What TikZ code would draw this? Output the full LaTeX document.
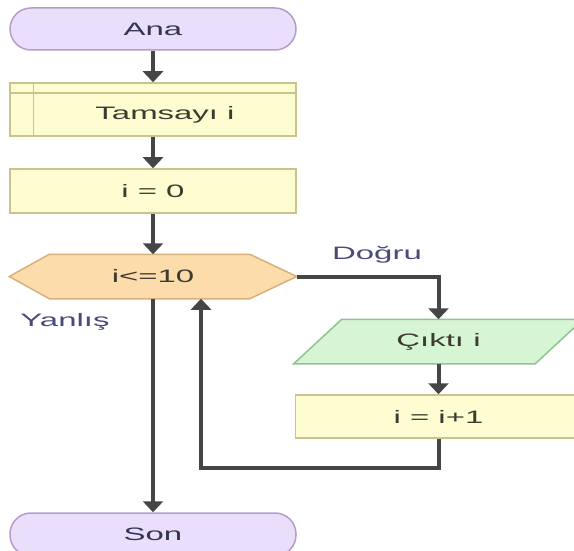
\documentclass[tikz,border=0pt]{standalone}
\usepackage{fontspec}
\setmainfont{Liberation Sans}[FakeStretch=1.83]
\usetikzlibrary{arrows.meta}
\definecolor{termfill}{HTML}{EADFFB}
\definecolor{termdraw}{HTML}{B79CCB}
\definecolor{boxfill}{HTML}{FEFDD2}
\definecolor{boxdraw}{HTML}{C9C48E}
\definecolor{hexfill}{HTML}{FCDCAA}
\definecolor{hexdraw}{HTML}{D9B07C}
\definecolor{iofill}{HTML}{D5F5D5}
\definecolor{iodraw}{HTML}{92C292}
\definecolor{linec}{HTML}{454545}
\definecolor{txt}{HTML}{3D3A30}
\definecolor{lbl}{HTML}{4A4A7A}
\tikzset{
  base/.style={font=\fontsize{18}{21}\selectfont, text=txt, inner sep=0pt, line width=1.5pt},
  term/.style={base, fill=termfill, draw=termdraw, rounded corners=21pt, minimum width=286pt, minimum height=42pt, text=lbl!70!black},
  procbox/.style={base, fill=boxfill, draw=boxdraw, minimum width=286pt, minimum height=44pt},
  hidden/.style={base, minimum width=286pt, minimum height=43pt},
  flow/.style={draw=linec, line width=4pt, -{Triangle[width=20pt,length=11pt]}},
  lab/.style={font=\fontsize{18}{21}\selectfont, text=lbl}
}
\begin{document}
\begin{tikzpicture}[x=1pt,y=-1pt]
\useasboundingbox (0,0) rectangle (574,551);
\clip (0,0) rectangle (574,551);
% nodes
\node[term] (ana) at (153,29) {Ana};
\node[procbox, minimum height=53pt] (tam) at (153,109.5) {};
\draw[boxdraw, line width=1.5pt] ([yshift=-11pt]tam.north west) -- ([yshift=-11pt]tam.north east);
\draw[boxdraw, line width=1.5pt] ([xshift=24pt]tam.north west) -- ([xshift=24pt]tam.south west);
\node[base] (tamt) at (165,115) {Tamsayı i};
\node[procbox] (i0) at (153,191) {i = 0};
\node[hidden] (hex) at (153,276.5) {};
\draw[fill=hexfill, draw=hexdraw, line width=1.5pt] (hex.west) -- ([xshift=40pt]hex.north west) -- ([xshift=-47pt]hex.north east) -- (hex.east) -- ([xshift=-47pt]hex.south east) -- ([xshift=40pt]hex.south west) -- cycle;
\node[base] (hext) at (hex.center) {i<=10};
\node[hidden, minimum width=288pt] (cik) at (438.5,341.5) {};
\draw[fill=iofill, draw=iodraw, line width=1.5pt] ([xshift=48pt]cik.north west) -- (cik.north east) -- ([xshift=-48pt]cik.south east) -- (cik.south west) -- cycle;
\node[base] (cikt) at (cik.center) {Çıktı i};
\node[procbox, minimum height=43pt] (inc) at (438.5,416.5) {i = i+1};
\node[term, minimum height=43pt] (son) at (153,534.5) {Son};
% labels
\node[lab] (dogru) at (377,255) {Doğru};
\node[lab] (yanlis) at (65,322) {Yanlış};
% connectors
\draw[flow] (ana.south) -- (tam.north);
\draw[flow] (tam.south) -- (i0.north);
\draw[flow] (i0.south) -- (hex.north);
\draw[flow] (hex.east) -| (cik.north);
\draw[flow] (cik.south) -- (inc.north);
\coordinate (lp) at (201,468);
\draw[flow] (inc.south) |- (lp) -- (lp |- hex.south);
\draw[flow] (hex.south) -- (son.north);
\end{tikzpicture}
\end{document}
